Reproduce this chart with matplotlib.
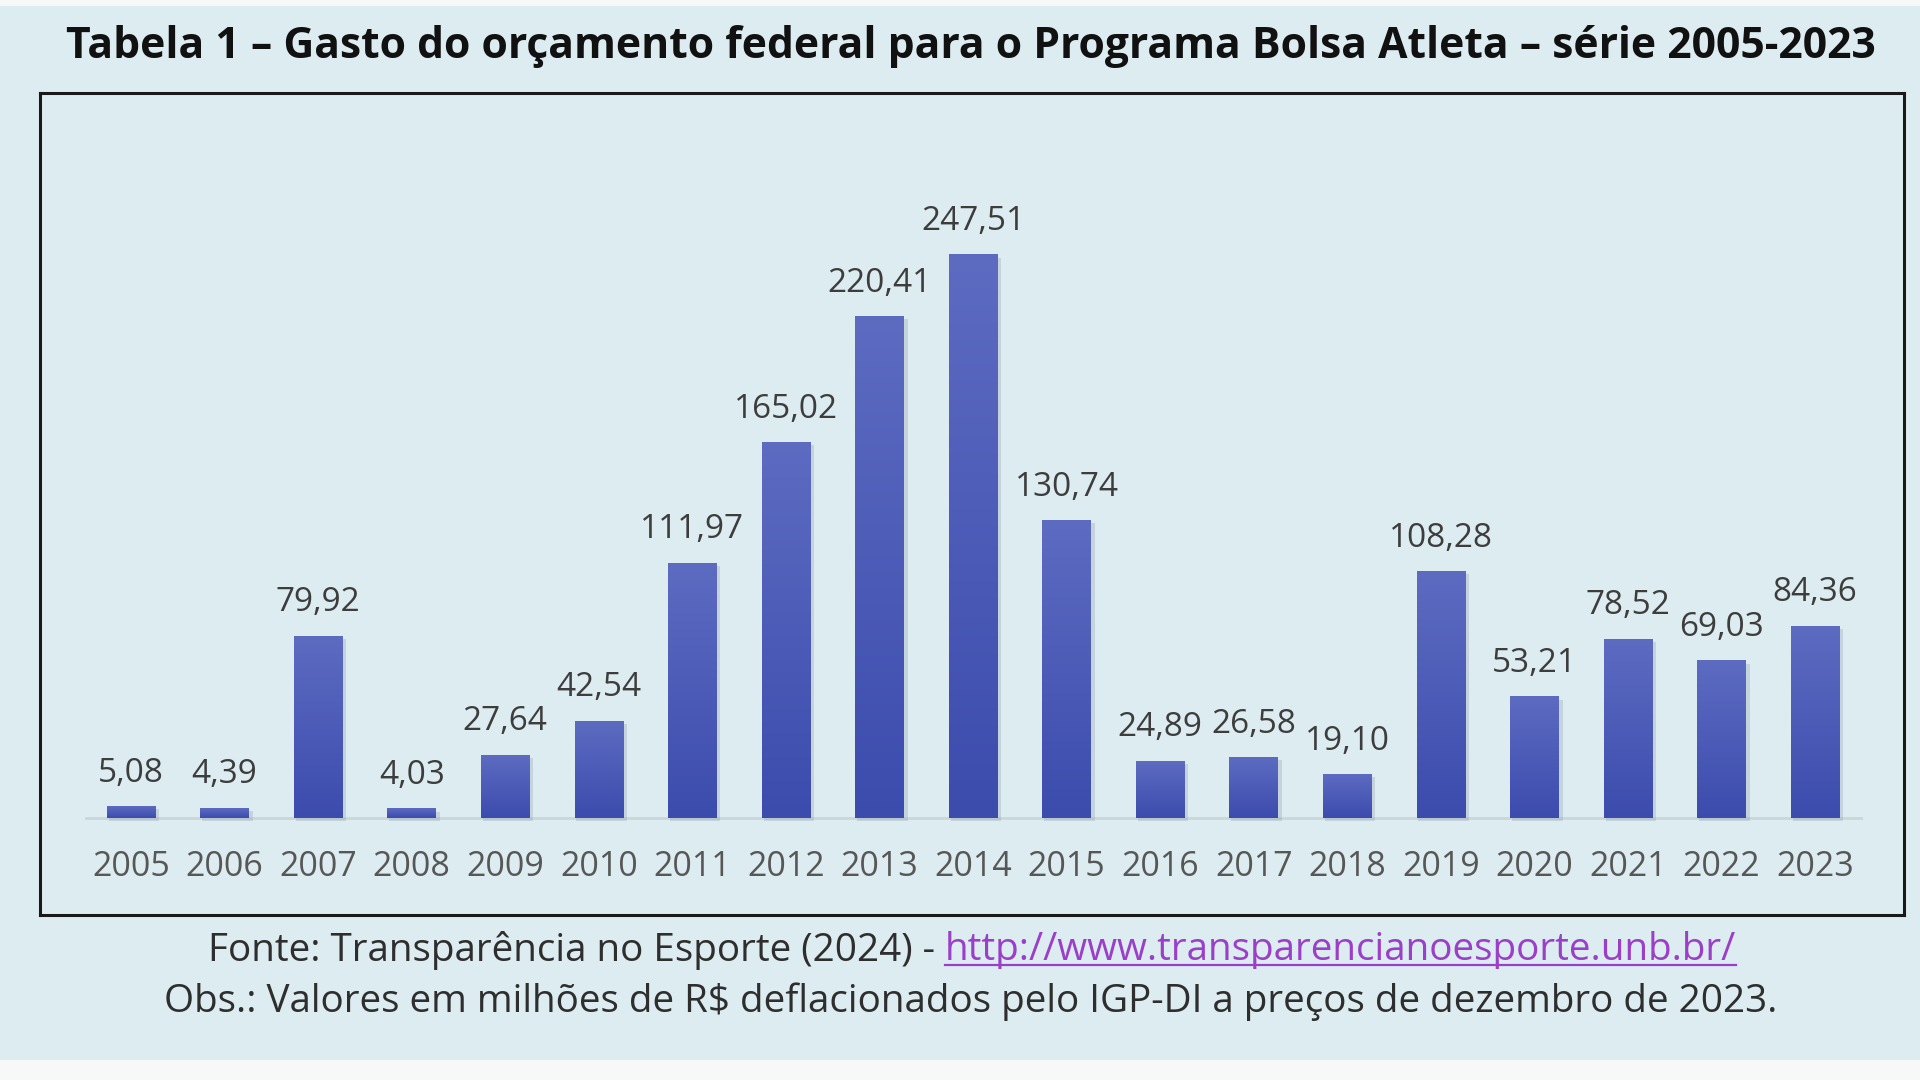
import matplotlib
matplotlib.use("Agg")
import matplotlib.pyplot as plt
import numpy as np
from matplotlib.colors import LinearSegmentedColormap
from matplotlib.patches import Rectangle

plt.rcParams['font.family'] = ['Open Sans', 'DejaVu Sans']

anos = ['2005', '2006', '2007', '2008', '2009', '2010', '2011', '2012', '2013', '2014',
        '2015', '2016', '2017', '2018', '2019', '2020', '2021', '2022', '2023']
gasto = [5.08, 4.39, 79.92, 4.03, 27.64, 42.54, 111.97, 165.02, 220.41, 247.51,
         130.74, 24.89, 26.58, 19.10, 108.28, 53.21, 78.52, 69.03, 84.36]

titulo = 'Tabela 1 – Gasto do orçamento federal para o Programa Bolsa Atleta – série 2005-2023'
fonte = 'Fonte: Transparência no Esporte (2024) - '
link = 'http://www.transparencianoesporte.unb.br/'
obs = 'Obs.: Valores em milhões de R$ deflacionados pelo IGP-DI a preços de dezembro de 2023.'

BG = '#dcecf0'
W, H = 1920, 1080

fig = plt.figure(figsize=(19.2, 10.8), dpi=100, facecolor=BG)
# thin white strips top and bottom like the screenshot
fig.patches.append(Rectangle((0, 1 - 6 / H), 1, 6 / H, transform=fig.transFigure,
                             facecolor='#f7f9f9', edgecolor='none'))
fig.patches.append(Rectangle((0, 0), 1, 20 / H, transform=fig.transFigure,
                             facecolor='#f7f9f9', edgecolor='none'))

# axes = the black box
bl, bt, br, bb = 40, 93, 1904, 915
ax = fig.add_axes([bl / W, 1 - bb / H, (br - bl) / W, (bb - bt) / H])
ax.set_facecolor(BG)
for s in ax.spines.values():
    s.set_color('#1a1a1a')
    s.set_linewidth(2.2)
ax.set_xticks([])
ax.set_yticks([])

x = np.arange(len(anos))
# soft shadow under the bars
ax.bar(x + 0.03, gasto, width=0.54, bottom=-1.2, color='#9aa6b8', alpha=0.35, zorder=1)
bars = ax.bar(x, gasto, width=0.52, color='#4a5ab6', zorder=2)

cmap = LinearSegmentedColormap.from_list('barra', ['#3c4cad', '#5d6bc1'])
grad = np.linspace(0, 1, 256).reshape(-1, 1)
for b in bars:
    x0, w, h = b.get_x(), b.get_width(), b.get_height()
    ax.imshow(grad, extent=[x0, x0 + w, 0, h], origin='lower', cmap=cmap,
              aspect='auto', zorder=3, interpolation='bicubic')

ax.plot([-0.48, 18.49], [0, 0], color='#c9d6da', lw=2, zorder=0.5)

for xi, v in zip(x, gasto):
    ax.annotate(f'{v:.2f}'.replace('.', ','), (xi, v), xytext=(0, 18),
                textcoords='offset points', ha='center', va='baseline',
                fontsize=24, color='#3d3d3d', zorder=4)
    ax.text(xi, -21.6, anos[xi], ha='center', va='center', fontsize=24.5,
            color='#575757')

ax.set_xlim(-0.973, 18.95)
ax.set_ylim(-42.6, 318.7)

fig.canvas.draw()
r = fig.canvas.get_renderer()


def fit(t, target):
    w = t.get_window_extent(r).width
    t.set_fontsize(t.get_fontsize() * target / w)


tt = fig.text(971 / W, 1 - 46 / H, titulo, ha='center', va='center',
              fontsize=30, fontweight='bold', color='#111111')
fit(tt, 1809)

# footnote line 1: plain text + link
f1 = fig.text(0, 0, fonte, fontsize=26, color='#2e2e2e', va='center', ha='left')
f2 = fig.text(0, 0, link, fontsize=26, color='#9b3fc9', va='center', ha='left')
w1 = f1.get_window_extent(r).width
w2 = f2.get_window_extent(r).width
k = 1533 / (w1 + w2)
f1.set_fontsize(26 * k)
f2.set_fontsize(26 * k)
fig.canvas.draw()
w1 = f1.get_window_extent(r).width
w2 = f2.get_window_extent(r).width
x0 = 972 - (w1 + w2) / 2
f1.set_position((x0 / W, 1 - 950 / H))
f2.set_position(((x0 + w1) / W, 1 - 950 / H))
fig.add_artist(plt.Line2D([(x0 + w1) / W, (x0 + w1 + w2) / W],
                          [1 - 965 / H, 1 - 965 / H], color='#9b3fc9', lw=1.6))

f3 = fig.text(971 / W, 1 - 1002 / H, obs, fontsize=26, color='#2e2e2e',
              ha='center', va='center')
fit(f3, 1615)

fig.savefig('out.png', dpi=100, facecolor=BG)
